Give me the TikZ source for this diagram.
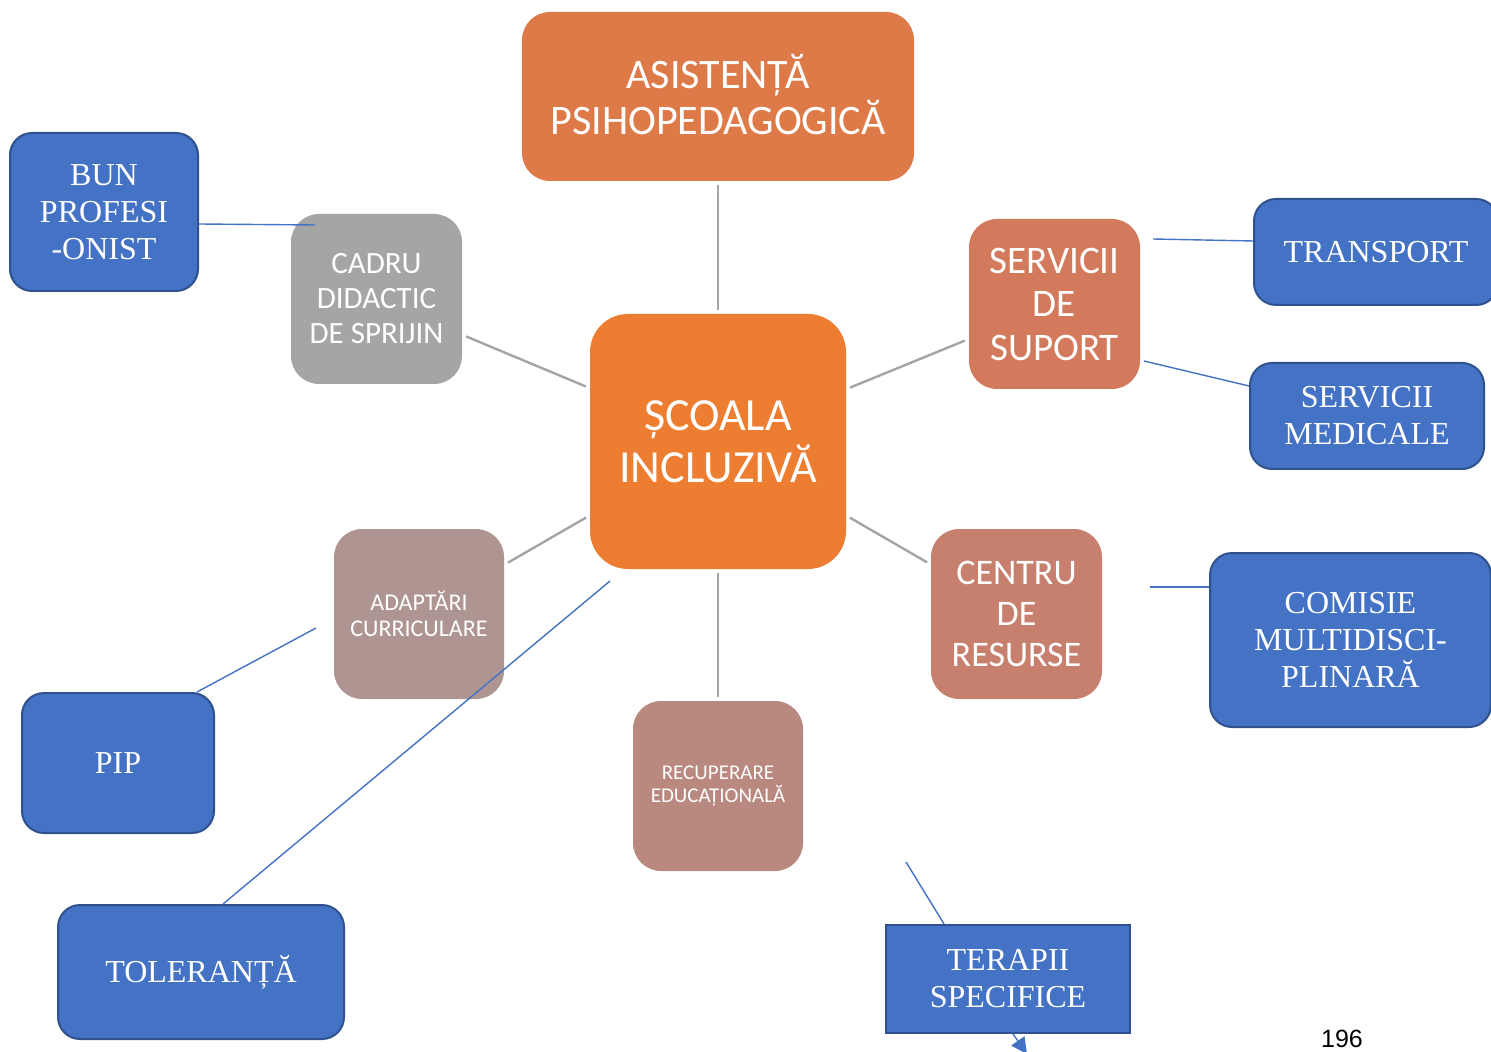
\documentclass[tikz,border=0pt]{standalone}
\usepackage{fontspec}
\setmainfont{Liberation Serif}
\newfontfamily\calibri{Carlito}
\newfontfamily\arialfont{Liberation Sans}
\usetikzlibrary{arrows.meta}
\definecolor{asistcol}{HTML}{DD7A48}
\definecolor{scoalacol}{HTML}{ED7D31}
\definecolor{cadrucol}{HTML}{A5A5A5}
\definecolor{suportcol}{HTML}{D27A5B}
\definecolor{centrucol}{HTML}{C7806E}
\definecolor{adaptcol}{HTML}{AE9592}
\definecolor{recupcol}{HTML}{B9887F}
\definecolor{blueacc}{HTML}{4472C4}
\definecolor{bluedark}{HTML}{2F528F}
\definecolor{linegrey}{HTML}{A5A5A5}

\begin{document}
\begin{tikzpicture}[x=0.5pt,y=-0.5pt,>=Stealth,
 tile/.style={rounded corners=14pt,inner sep=0pt,align=center,text=white},
 bluebox/.style={draw=bluedark,line width=1pt,fill=blueacc,rounded corners=11pt,
  inner sep=0pt,align=center,text=white,font=\fontsize{16}{18.5}\selectfont},
 greyline/.style={draw=linegrey,line width=1.2pt,shorten <=2pt,shorten >=2pt},
 blueline/.style={draw=blueacc,line width=0.7pt}]
 \useasboundingbox (0,0) rectangle (1491,1052);
 \clip (0,0) rectangle (1491,1052);
 \fill[white] (0,0) rectangle (1491,1052);

 % central map
 \node[tile,fill=asistcol,minimum width=196pt,minimum height=84.5pt,
  font=\calibri\fontsize{21}{23}\selectfont] (asist) at (718,96.5)
  {\raisebox{2pt}{ASISTENȚĂ}\\\raisebox{2pt}{PSIHOPEDAGOGICĂ}};
 \node[tile,fill=scoalacol,rounded corners=19pt,minimum width=128pt,minimum height=127.5pt,
  font=\calibri\fontsize{23}{26}\selectfont] (scoala) at (718,441.5)
  {ȘCOALA\\INCLUZIVĂ};
 \node[tile,fill=cadrucol,minimum width=85.5pt,minimum height=85pt,
  font=\calibri\fontsize{15.5}{17.5}\selectfont] (cadru) at (376.5,299)
  {CADRU\\DIDACTIC\\DE SPRIJIN};
 \node[tile,fill=suportcol,minimum width=85.5pt,minimum height=85pt,
  font=\calibri\fontsize{19.5}{21.75}\selectfont] (suport) at (1054.5,304)
  {SERVICII\\DE\\SUPORT};
 \node[tile,fill=adaptcol,minimum width=85pt,minimum height=85pt,
  font=\calibri\fontsize{12}{13}\selectfont] (adapt) at (419,614)
  {ADAPTĂRI\\CURRICULARE};
 \node[tile,fill=recupcol,minimum width=85pt,minimum height=85pt,
  font=\calibri\fontsize{10.5}{11.5}\selectfont] (recup) at (718,786)
  {RECUPERARE\\EDUCAȚIONALĂ};
 \node[tile,fill=centrucol,minimum width=85.5pt,minimum height=85pt,
  font=\calibri\fontsize{18}{20.5}\selectfont] (centru) at (1016.5,614)
  {CENTRU\\DE\\RESURSE};

 \draw[greyline] (asist) -- (scoala);
 \draw[greyline] (cadru) -- (scoala);
 \draw[greyline] (suport) -- (scoala);
 \draw[greyline] (adapt) -- (scoala);
 \draw[greyline] (centru) -- (scoala);
 \draw[greyline] (recup) -- (scoala);

 % outer blue boxes
 \node[bluebox,minimum width=94pt,minimum height=79pt] (bun) at (104,212)
  {BUN\\PROFESI\\-ONIST};
 \node[bluebox,minimum width=122pt,minimum height=53pt] (transport) at (1376,252)
  {TRANSPORT};
 \node[bluebox,minimum width=117pt,minimum height=53pt] (medicale) at (1367,416)
  {SERVICII\\MEDICALE};
 \node[bluebox,minimum width=140.5pt,minimum height=87pt] (comisie) at (1350.5,640)
  {COMISIE\\MULTIDISCI-\\PLINARĂ};
 \node[bluebox,minimum width=96pt,minimum height=70pt] (pip) at (118,763) {PIP};
 \node[bluebox,minimum width=143pt,minimum height=67pt] (toleranta) at (201,972)
  {TOLERANȚĂ};
 \node[bluebox,rounded corners=0pt,minimum width=122pt,minimum height=54pt] (terapii)
  at (1008,979) {TERAPII\\SPECIFICE};

 \coordinate (bunend) at (315,225);
 \coordinate (transend) at (1153,239);
 \coordinate (medend) at (1144,361);
 \coordinate (comend) at (1150,587);
 \coordinate (pipend) at (316,628);
 \coordinate (tolend) at (610,581);
 \coordinate (terend) at (906,862);
 \coordinate (arrowend) at (1027,1054);

 \draw[blueline] ([yshift=-6pt]bun.east) -- (bunend);
 \draw[blueline] ([yshift=5.5pt]transport.west) -- (transend);
 \draw[blueline] ([yshift=15pt]medicale.west) -- (medend);
 \draw[blueline] ([yshift=26.5pt]comisie.west) -- (comend);
 \draw[blueline] ([xshift=-9pt]pip.north east) -- (pipend);
 \draw[blueline] ([xshift=11pt]toleranta.north) -- (tolend);
 \draw[blueline] ([xshift=-32pt]terapii.north) -- (terend);
 \draw[blueline,-{Triangle[length=8pt,width=8pt]}] ([xshift=2.5pt]terapii.south) -- (arrowend);

 \node[font=\arialfont\fontsize{12.5}{14}\selectfont] (pagenr) at (1342,1039) {196};
\end{tikzpicture}
\end{document}
